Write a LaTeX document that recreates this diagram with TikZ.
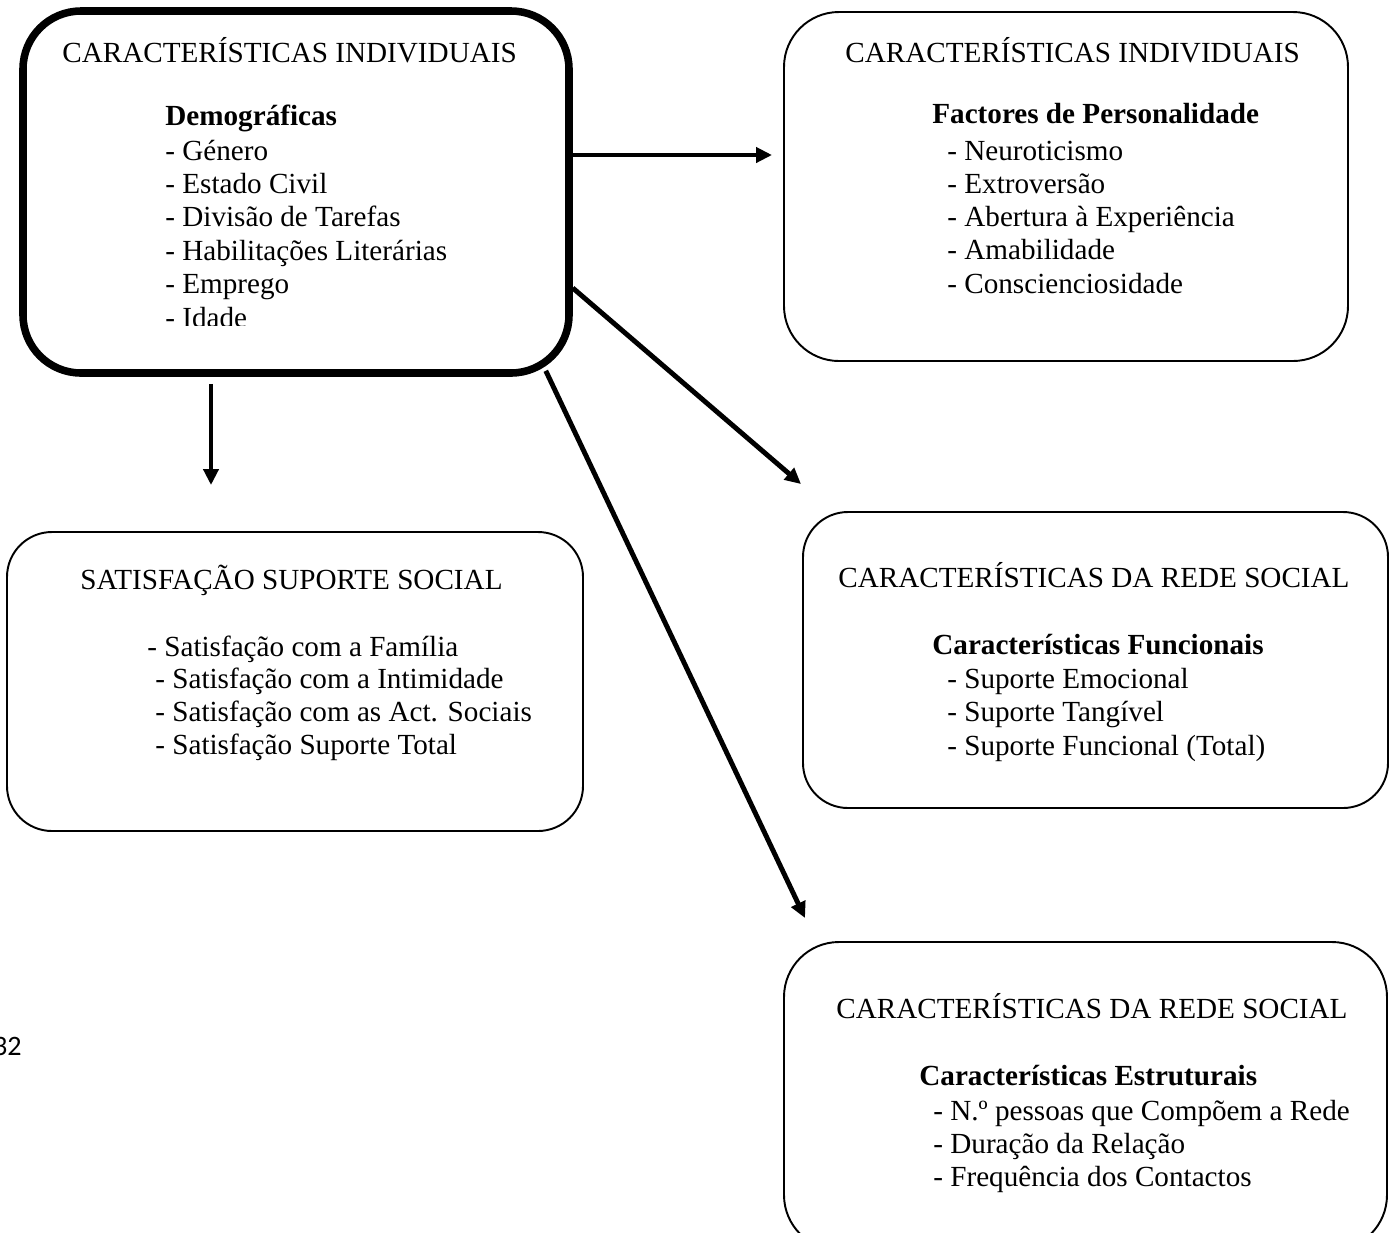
\documentclass[tikz,border=0pt]{standalone}
\usepackage{fontspec}
\setmainfont{Liberation Serif}
\newfontfamily\pagefont{Carlito}
\usepackage{tikz}
\usetikzlibrary{arrows.meta,calc}
\newlength\px
\setlength\px{0.02cm}

\begin{document}
\begin{tikzpicture}[x=1\px,y=-1\px,
    box/.style={draw,line width=1.1pt,inner sep=0pt,rounded corners=#1},
    ttl/.style={anchor=base west,inner sep=0pt,font=\fontsize{16.6}{19}\selectfont},
    arr/.style={line width=2.8pt,-{Triangle[length=0.32cm,width=0.3cm]}}]
  \useasboundingbox (0,0) rectangle (1390,1232);
  \clip (0,0) rectangle (1390,1232);

  % caixas
  \node[box=1.16cm,line width=4.3pt,minimum width=546\px,minimum height=362\px] (demog) at (296,192) {};
  \node[box=1.1cm,minimum width=564\px,minimum height=349\px] (perso) at (1066,186.5) {};
  \node[box=0.9cm,minimum width=576\px,minimum height=299\px] (satis) at (295,681.5) {};
  \node[box=0.9cm,minimum width=585\px,minimum height=296\px] (funcio) at (1095.5,660) {};
  \node[box=1.1cm,minimum width=603\px,minimum height=308\px] (estru) at (1085.5,1096) {};

  % caracteristicas individuais - demograficas
  \begin{scope}
    \clip (23,11) rectangle (569,325);
    \node[ttl] (demog-t) at (62,62) {CARACTERÍSTICAS INDIVIDUAIS};
    \node[ttl] (demog-h) at (165,125) {\textbf{Demográficas}};
    \foreach \txt [count=\i] in {Género,Estado Civil,Divisão de Tarefas,Habilitações Literárias,Emprego,Idade}{
      \node[ttl] (demog-\i) at (165,{160+33.4*(\i-1)}) {- \txt};
    }
  \end{scope}

  % caracteristicas individuais - personalidade
  \node[ttl] (perso-t) at (845,62) {CARACTERÍSTICAS INDIVIDUAIS};
  \node[ttl] (perso-h) at (932,123) {\textbf{Factores de Personalidade}};
  \foreach \txt [count=\i] in {Neuroticismo,Extroversão,Abertura à Experiência,Amabilidade,Conscienciosidade}{
    \node[ttl] (perso-\i) at (947,{160+33.3*(\i-1)}) {- \txt};
  }

  % satisfacao suporte social
  \node[ttl] (satis-t) at (80,589) {SATISFAÇÃO SUPORTE SOCIAL};
  \foreach \txt/\xx [count=\i] in {Satisfação com a Família/147,Satisfação com a Intimidade/155,Satisfação com as Act. Sociais/155,Satisfação Suporte Total/155}{
    \node[ttl] (satis-\i) at (\xx,{656+32.7*(\i-1)}) {- \txt};
  }

  % rede social - funcionais
  \node[ttl] (funcio-t) at (838,587) {CARACTERÍSTICAS DA REDE SOCIAL};
  \node[ttl] (funcio-h) at (932,654) {\textbf{Características Funcionais}};
  \foreach \txt [count=\i] in {Suporte Emocional,Suporte Tangível,Suporte Funcional (Total)}{
    \node[ttl] (funcio-\i) at (947,{688+33.5*(\i-1)}) {- \txt};
  }

  % rede social - estruturais
  \node[ttl] (estru-t) at (836,1018) {CARACTERÍSTICAS DA REDE SOCIAL};
  \node[ttl] (estru-h) at (919,1085) {\textbf{Características Estruturais}};
  \foreach \txt [count=\i] in {N.º pessoas que Compõem a Rede,Duração da Relação,Frequência dos Contactos}{
    \node[ttl] (estru-\i) at (933,{1120+33*(\i-1)}) {- \txt};
  }

  \node[anchor=base east,inner sep=0pt,font=\pagefont\fontsize{16}{19}\selectfont] (pag) at (22,1055) {32};

  % setas
  \draw[arr,shorten >=0.22cm] ($(demog.east)+(0,-37)$) -- ($(perso.west)+(0,-31.5)$);
  \draw[arr] ($(demog.east)+(0,96)$) -- ($(funcio.north west)+(-1,-27)$);
  \draw[arr] ($(demog.south east)+(-27,-6)$) -- ($(estru.north west)+(22,-23)$);
  \draw[arr] ($(demog.south)+(-85,7)$) -- ($(satis.north)+(-84,-46)$);
\end{tikzpicture}
\end{document}
